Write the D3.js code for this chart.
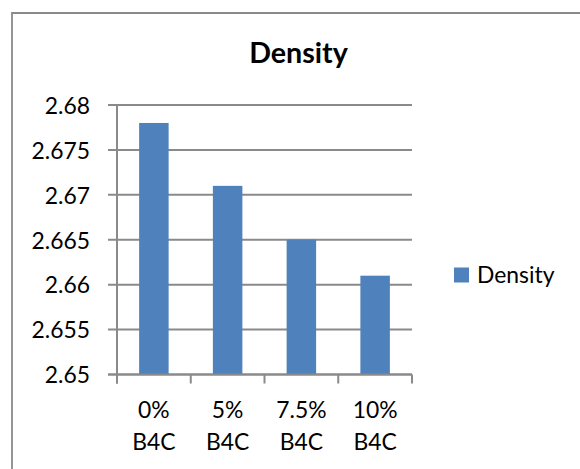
<!DOCTYPE html>
<html>
<head>
<meta charset="utf-8">
<script src="https://cdn.jsdelivr.net/npm/d3@7"></script>
<style>
  html, body { margin: 0; padding: 0; background: #fff; }
  svg { display: block; }
  text { font-family: Lato, "Open Sans", sans-serif; fill: #000; }
</style>
</head>
<body>
<svg id="chart" width="580" height="469"></svg>
<script>
// Density of samples by B4C content
const categories = ["0% B4C", "5% B4C", "7.5% B4C", "10% B4C"];
const densityValues = [2.678, 2.671, 2.665, 2.661];
const yTicks = [2.65, 2.655, 2.66, 2.665, 2.67, 2.675, 2.68];
const seriesName = "Density";
const chartTitle = "Density";

const svg = d3.select("#chart");
const W = 580, H = 469;
const plot = { left: 117, right: 412, top: 105, bottom: 374.5 };
const gray = "#8a8a8a";
const barColor = "#4f81bd";
const FONT = "Lato, 'Open Sans', sans-serif";

// pick a font size giving the wanted rendered width for a sample string
function sizeFor(sample, wantWidth, weight) {
  const t = svg.append("text")
    .attr("font-size", 100)
    .attr("font-weight", weight || "normal")
    .style("font-family", FONT)
    .text(sample);
  const w = t.node().getComputedTextLength();
  t.remove();
  return 100 * wantWidth / w;
}
const labelSize = sizeFor("2.675", 58.5);
const titleSize = sizeFor(chartTitle, 98.8, "bold");

// outer chart frame (top and left edges fall inside the view)
svg.append("path")
  .attr("d", `M12,${H + 2} L12,13 L${W + 2},13`)
  .attr("fill", "none")
  .attr("stroke", gray)
  .attr("stroke-width", 1.8);

const x = d3.scaleBand()
  .domain(categories)
  .range([plot.left, plot.right])
  .paddingInner(0.6)
  .paddingOuter(0.3);

const y = d3.scaleLinear()
  .domain([2.65, 2.68])
  .range([plot.bottom, plot.top]);

// horizontal gridlines
svg.append("g")
  .selectAll("line")
  .data(yTicks)
  .join("line")
  .attr("x1", plot.left - 9)
  .attr("x2", plot.right)
  .attr("y1", d => y(d))
  .attr("y2", d => y(d))
  .attr("stroke", gray)
  .attr("stroke-width", 2);

// y axis labels
const yAxis = d3.axisLeft(y)
  .tickValues(yTicks)
  .tickFormat(d => d3.format("")(+d.toFixed(3)))
  .tickSize(0)
  .tickPadding(0);

const yg = svg.append("g")
  .attr("transform", `translate(${plot.left - 27},0)`)
  .call(yAxis);
yg.select(".domain").remove();
yg.selectAll("text")
  .attr("font-size", labelSize)
  .attr("fill", "#000")
  .attr("dy", "0.36em")
  .style("font-family", FONT);

// bars
svg.append("g")
  .selectAll("rect")
  .data(densityValues)
  .join("rect")
  .attr("x", (d, i) => x(categories[i]))
  .attr("y", d => y(d))
  .attr("width", x.bandwidth())
  .attr("height", d => y(2.65) - y(d))
  .attr("fill", barColor);

// vertical axis line
svg.append("line")
  .attr("x1", plot.left).attr("x2", plot.left)
  .attr("y1", plot.top).attr("y2", plot.bottom + 9)
  .attr("stroke", gray).attr("stroke-width", 2);

// category boundary ticks below the baseline
const boundaries = d3.range(categories.length + 1).map(i => plot.left + i * (plot.right - plot.left) / categories.length);
svg.append("g")
  .selectAll("line")
  .data(boundaries)
  .join("line")
  .attr("x1", d => d).attr("x2", d => d)
  .attr("y1", plot.bottom).attr("y2", plot.bottom + 9)
  .attr("stroke", gray).attr("stroke-width", 2);

// baseline
svg.append("line")
  .attr("x1", plot.left - 9).attr("x2", plot.right)
  .attr("y1", plot.bottom).attr("y2", plot.bottom)
  .attr("stroke", gray).attr("stroke-width", 2);

// x category labels on two lines
const xl = svg.append("g")
  .selectAll("text")
  .data(categories)
  .join("text")
  .attr("x", d => x(d) + x.bandwidth() / 2)
  .attr("y", 417.5)
  .attr("text-anchor", "middle")
  .attr("font-size", labelSize);
xl.each(function (d) {
  const parts = d.split(" ");
  const t = d3.select(this);
  t.append("tspan").attr("x", t.attr("x")).attr("dy", 0).text(parts[0]);
  t.append("tspan").attr("x", t.attr("x")).attr("dy", 32.5).text(parts[1]);
});

// title
svg.append("text")
  .attr("x", 298.5)
  .attr("y", 62.7)
  .attr("text-anchor", "middle")
  .attr("font-size", titleSize)
  .attr("font-weight", "bold")
  .text(chartTitle);

// legend
const lg = svg.append("g");
lg.append("rect")
  .attr("x", 454).attr("y", 267.5)
  .attr("width", 15).attr("height", 15)
  .attr("fill", barColor);
lg.append("text")
  .attr("x", 477).attr("y", 282.7)
  .attr("font-size", labelSize)
  .text(seriesName);
</script>
</body>
</html>
